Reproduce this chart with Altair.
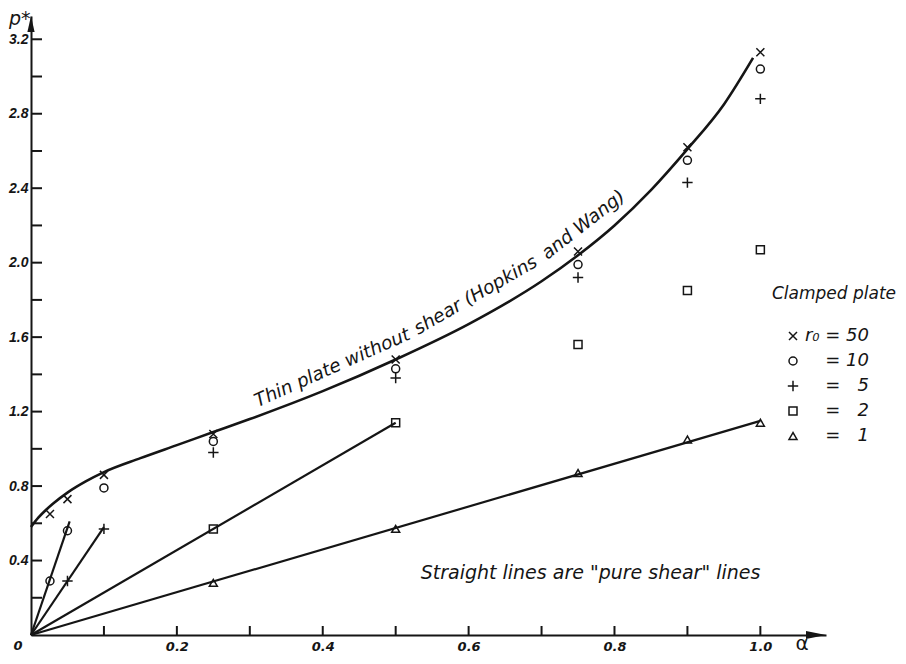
import altair as alt
import pandas as pd

FONT = "DejaVu Sans"
TICKFONT = "DejaVu Sans"
YTICKFONT = "Liberation Sans"
INK = "#151515"

# ---- Hopkins & Wang curve (thin plate without shear) ----
curve_alpha = [0.0, 0.01, 0.02, 0.03, 0.05, 0.075, 0.1, 0.15, 0.2, 0.25, 0.3, 0.4,
               0.5, 0.6, 0.7, 0.75, 0.8, 0.85, 0.9, 0.95, 0.99]
curve_p = [0.58, 0.63, 0.67, 0.705, 0.765, 0.825, 0.875, 0.95, 1.02, 1.09, 1.16, 1.31,
           1.48, 1.67, 1.90, 2.04, 2.20, 2.39, 2.61, 2.85, 3.10]

# ---- measured points, clamped plate ----
r0_order = ["50", "10", "5", "2", "1"]
pts_alpha = {
    "50": [0.026, 0.05, 0.1, 0.25, 0.5, 0.75, 0.9, 1.0],
    "10": [0.026, 0.05, 0.1, 0.25, 0.5, 0.75, 0.9, 1.0],
    "5": [0.05, 0.1, 0.25, 0.5, 0.75, 0.9, 1.0],
    "2": [0.25, 0.5, 0.75, 0.9, 1.0],
    "1": [0.25, 0.5, 0.75, 0.9, 1.0],
}
pts_p = {
    "50": [0.65, 0.73, 0.86, 1.08, 1.48, 2.06, 2.62, 3.13],
    "10": [0.29, 0.56, 0.79, 1.04, 1.43, 1.99, 2.55, 3.04],
    "5": [0.29, 0.57, 0.98, 1.38, 1.92, 2.43, 2.88],
    "2": [0.57, 1.14, 1.56, 1.85, 2.07],
    "1": [0.28, 0.57, 0.87, 1.05, 1.14],
}

# ---- "pure shear" straight lines (from the origin) ----
shear_r0 = ["10", "5", "2", "1"]
shear_end_alpha = [0.053, 0.1, 0.5, 1.0]
shear_end_p = [0.61, 0.58, 1.14, 1.15]

# ---- axis ticks / labels ----
x_label_vals = [0.2, 0.4, 0.6, 0.8, 1.0]
y_label_vals = [0.4, 0.8, 1.2, 1.6, 2.0, 2.4, 2.8, 3.2]
x_tick_vals = [0.1, 0.2, 0.3, 0.4, 0.5, 0.6, 0.7, 0.8, 0.9, 1.0]
y_tick_vals = [0.2, 0.4, 0.6, 0.8, 1.0, 1.2, 1.4, 1.6, 1.8, 2.0, 2.2, 2.4, 2.6, 2.8, 3.0, 3.2]

# ---- annotation texts ----
seg_text = ["Thin plate without", "shear (Hopkins", "and Wang)"]
seg_alpha = [0.311, 0.531, 0.708]
seg_p = [1.224, 1.612, 2.014]
seg_angle = [336, 330, 322]

note_text = ['Straight lines are "pure shear" lines']
note_alpha = [1.0]
note_p = [0.30]

W, H = 795, 619
X_DOMAIN = [0, 1.09]
Y_DOMAIN = [0, 3.325]

XPATH = "M-1,-1L1,1M-1,1L1,-1"
PLUS = "M-1.3,0L1.3,0M0,-1.3L0,1.3"
UP = "M0,-1L0.45,1L-0.45,1Z"
RIGHT = "M1,0L-1,0.4L-1,-0.4Z"

# ---- data frames ----
curve_df = pd.DataFrame({"alpha": curve_alpha, "p": curve_p})
rows = []
for r in r0_order:
    for a, p in zip(pts_alpha[r], pts_p[r]):
        rows.append({"alpha": a, "p": p, "r0": r})
pts_df = pd.DataFrame(rows)
lrows = []
for r, a, p in zip(shear_r0, shear_end_alpha, shear_end_p):
    lrows.append({"alpha": 0.0, "p": 0.0, "r0": r, "o": 0})
    lrows.append({"alpha": a, "p": p, "r0": r, "o": 1})
lines_df = pd.DataFrame(lrows)
xt_df = pd.DataFrame({"alpha": x_tick_vals})
yt_df = pd.DataFrame({"p": y_tick_vals})
seg_df = pd.DataFrame({"alpha": seg_alpha, "p": seg_p, "text": seg_text, "angle": seg_angle})
note_df = pd.DataFrame({"alpha": note_alpha, "p": note_p, "text": note_text})
one = pd.DataFrame({"k": [0]})

x_enc = alt.X(
    "alpha:Q",
    scale=alt.Scale(domain=X_DOMAIN, nice=False, zero=False),
    axis=alt.Axis(
        values=x_label_vals, format=".1f", title=None, grid=False, ticks=False,
        domainColor=INK, domainWidth=2, labelFont=TICKFONT, labelFontSize=13,
        labelFontStyle="italic", labelFontWeight="bold", labelColor=INK,
        labelPadding=5, labelBaseline="top",
    ),
)
y_enc = alt.Y(
    "p:Q",
    scale=alt.Scale(domain=Y_DOMAIN, nice=False, zero=False),
    axis=alt.Axis(
        values=y_label_vals, format=".1f", title=None, grid=False, ticks=False,
        domainColor=INK, domainWidth=2, labelFont=YTICKFONT, labelFontSize=14,
        labelFontStyle="italic", labelFontWeight="bold", labelColor=INK,
        labelPadding=3,
    ),
)

x_ticks = alt.Chart(xt_df).mark_rule(color=INK, strokeWidth=2).encode(
    x=x_enc, y=alt.value(H), y2=alt.value(H - 9)
)
y_ticks = alt.Chart(yt_df).mark_rule(color=INK, strokeWidth=2).encode(
    y=y_enc, x=alt.value(0), x2=alt.value(11)
)

curve = alt.Chart(curve_df).mark_line(
    color=INK, strokeWidth=2.6, interpolate="monotone"
).encode(x=x_enc, y=y_enc)

shear = alt.Chart(lines_df).mark_line(color=INK, strokeWidth=2.2).encode(
    x=x_enc, y=y_enc, detail="r0:N", order="o:Q"
)

label_expr = (
    "datum.label == '50' ? 'r\u2080 = 50' : "
    "datum.label == '10' ? '= 10' : '= \u2007' + datum.label"
)
points = alt.Chart(pts_df).mark_point(
    filled=False, color=INK, strokeWidth=1.5, size=64, opacity=1
).encode(
    x=x_enc,
    y=y_enc,
    shape=alt.Shape(
        "r0:N",
        scale=alt.Scale(domain=r0_order, range=[XPATH, "circle", PLUS, "square", "triangle-up"]),
        legend=alt.Legend(
            title=None, orient="none", legendX=753, legendY=311, direction="vertical",
            labelExpr=label_expr, labelAlign="right", labelOffset=67, labelLimit=200,
            labelFont=FONT, labelFontSize=18, labelFontStyle="italic", labelColor=INK,
            symbolSize=64, symbolStrokeWidth=1.5, symbolStrokeColor=INK,
            rowPadding=7, padding=0,
        ),
    ),
)

seg_labels = alt.Chart(seg_df).mark_text(
    align="left", baseline="alphabetic", font=FONT, fontSize=18.5,
    fontStyle="italic", color=INK
).encode(x=x_enc, y=y_enc, text="text:N", angle=alt.Angle("angle:Q", scale=None))

note = alt.Chart(note_df).mark_text(
    align="right", baseline="alphabetic", font=FONT, fontSize=19,
    fontStyle="italic", color=INK
).encode(x=x_enc, y=y_enc, text="text:N")

clamped = alt.Chart(one).mark_text(
    align="left", baseline="alphabetic", font=FONT, fontSize=17,
    fontStyle="italic", color=INK, text="Clamped plate"
).encode(x=alt.value(741), y=alt.value(283))

arrow_up = alt.Chart(one).mark_point(
    shape=UP, filled=True, size=256, color=INK, opacity=1
).encode(x=alt.value(0), y=alt.value(8))
arrow_right = alt.Chart(one).mark_point(
    shape=RIGHT, filled=True, size=400, color=INK, opacity=1
).encode(x=alt.value(W - 10), y=alt.value(H))

p_label = alt.Chart(one).mark_text(
    align="left", baseline="alphabetic", font=FONT, fontSize=19,
    fontStyle="italic", color=INK, text="p*"
).encode(x=alt.value(-22), y=alt.value(9))
a_label = alt.Chart(one).mark_text(
    align="center", baseline="alphabetic", font=FONT, fontSize=20,
    color=INK, text="α"
).encode(x=alt.value(771), y=alt.value(H + 15))
zero_label = alt.Chart(one).mark_text(
    align="center", baseline="top", font=TICKFONT, fontSize=13,
    fontStyle="italic", fontWeight="bold", color=INK, text="0"
).encode(x=alt.value(-13), y=alt.value(H + 5))

chart = alt.layer(
    x_ticks, y_ticks, shear, curve, points, seg_labels, note, clamped,
    arrow_up, arrow_right, p_label, a_label, zero_label,
).properties(
    width=W, height=H,
    autosize=alt.AutoSizeParams(type="none"),
    padding={"left": 23, "top": 8, "right": 72, "bottom": 21},
    background="white",
).configure_view(stroke=None)

chart.save("out.html", embed_options={"renderer": "svg", "actions": False})
